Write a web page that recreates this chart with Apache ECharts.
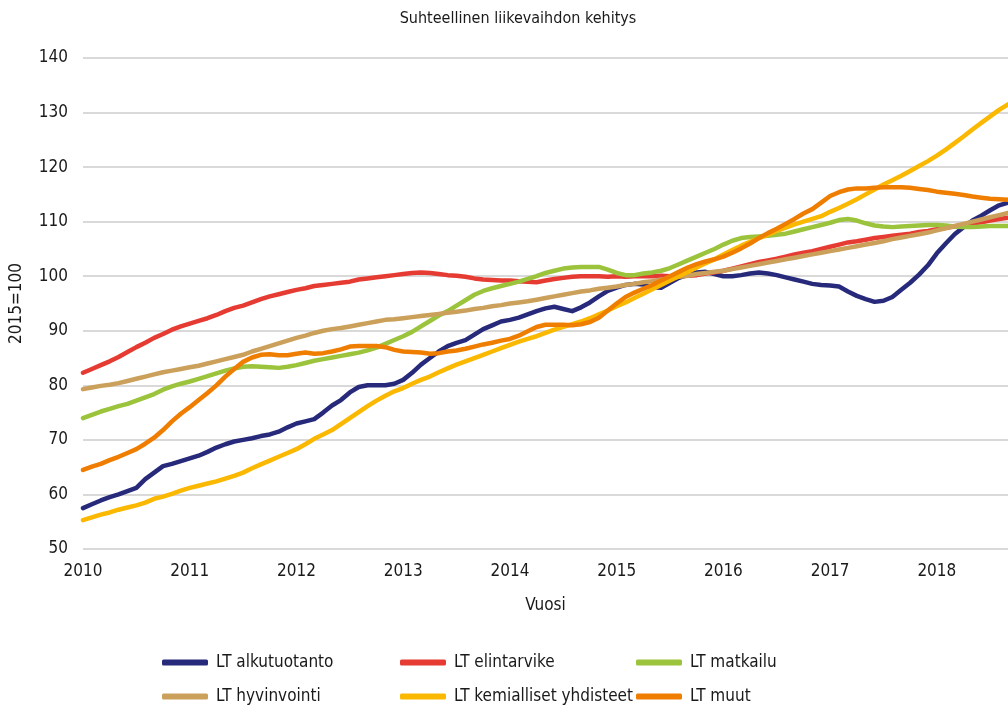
<!DOCTYPE html>
<html>
<head>
<meta charset="utf-8">
<title>Suhteellinen liikevaihdon kehitys</title>
<script src="https://cdn.jsdelivr.net/npm/echarts@6/dist/echarts.min.js"></script>
<style>
  html, body { margin: 0; padding: 0; background: #ffffff; }
  #chart { width: 1008px; height: 711px; }
</style>
</head>
<body>
<div id="chart"></div>
<script>
// monthly index values (2015=100), Jan 2010 .. Sep 2018
const years = ['2010', '2011', '2012', '2013', '2014', '2015', '2016', '2017', '2018'];
const lastMonth2018 = 9;

const alkutuotanto = [
  57.5, 58.2, 58.9, 59.5, 60.0, 60.6, 61.2, 62.8, 64.0, 65.2, 65.6, 66.1,
  66.6, 67.1, 67.8, 68.6, 69.2, 69.7, 70.0, 70.3, 70.7, 71.0, 71.5, 72.3,
  73.0, 73.4, 73.8, 75.0, 76.3, 77.3, 78.7, 79.7, 80.0, 80.0, 80.0, 80.3,
  81.0, 82.3, 83.8, 85.0, 86.2, 87.2, 87.8, 88.3, 89.3, 90.3, 91.0, 91.7,
  92.0, 92.4, 93.0, 93.6, 94.1, 94.4, 94.0, 93.6, 94.3, 95.2, 96.3, 97.3,
  97.9, 98.4, 98.6, 98.5, 98.0, 97.9, 98.8, 99.7, 100.3, 100.7, 100.8, 100.4,
  100.0, 100.0, 100.2, 100.5, 100.7, 100.5, 100.2, 99.8, 99.4, 99.0, 98.6, 98.4,
  98.3, 98.1, 97.2, 96.4, 95.8, 95.3, 95.5, 96.2, 97.5, 98.8, 100.3, 102.0,
  104.2, 106.0, 107.7, 109.0, 110.2, 111.1, 112.1, 113.0, 113.5
];
const elintarvike = [
  82.3, 83.0, 83.7, 84.4, 85.2, 86.1, 87.0, 87.8, 88.7, 89.4, 90.2, 90.8,
  91.3, 91.8, 92.3, 92.9, 93.6, 94.2, 94.6, 95.2, 95.8, 96.3, 96.7, 97.1,
  97.5, 97.8, 98.2, 98.4, 98.6, 98.8, 99.0, 99.4, 99.6, 99.8, 100.0, 100.2,
  100.4, 100.6, 100.7, 100.6, 100.4, 100.2, 100.1, 99.9, 99.6, 99.4, 99.3, 99.2,
  99.2, 99.1, 99.0, 98.9, 99.2, 99.5, 99.7, 99.9, 100.0, 100.0, 100.0, 99.9,
  100.0, 99.9, 100.0, 100.0, 100.0, 100.1, 100.0, 100.0, 100.1, 100.2, 100.5, 100.7,
  101.0, 101.4, 101.8, 102.2, 102.6, 102.9, 103.2, 103.6, 104.0, 104.3, 104.6, 105.0,
  105.4, 105.8, 106.2, 106.4, 106.7, 107.0, 107.2, 107.4, 107.6, 107.8, 108.1, 108.3,
  108.6, 108.9, 109.1, 109.4, 109.6, 109.9, 110.2, 110.5, 110.7
];
const matkailu = [
  74.0, 74.6, 75.2, 75.7, 76.2, 76.6, 77.2, 77.8, 78.4, 79.2, 79.8, 80.3,
  80.7, 81.2, 81.7, 82.2, 82.7, 83.1, 83.4, 83.5, 83.4, 83.3, 83.2, 83.4,
  83.7, 84.1, 84.5, 84.8, 85.1, 85.4, 85.7, 86.0, 86.4, 86.9, 87.6, 88.3,
  89.0, 89.8, 90.8, 91.8, 92.8, 93.6, 94.6, 95.6, 96.6, 97.3, 97.8, 98.2,
  98.6, 99.0, 99.5, 100.0, 100.6, 101.0, 101.4, 101.6, 101.7, 101.7, 101.7, 101.2,
  100.6, 100.2, 100.2, 100.5, 100.7, 101.0, 101.5, 102.2, 102.9, 103.6, 104.3, 105.0,
  105.8, 106.5, 107.0, 107.2, 107.3, 107.4, 107.6, 107.8, 108.2, 108.6, 109.0, 109.4,
  109.8, 110.3, 110.5, 110.2, 109.7, 109.3, 109.1, 109.0, 109.1, 109.2, 109.3, 109.4,
  109.4, 109.3, 109.1, 109.0, 109.0, 109.1, 109.2, 109.2, 109.2
];
const hyvinvointi = [
  79.3, 79.6, 79.9, 80.1, 80.4, 80.8, 81.2, 81.6, 82.0, 82.4, 82.7, 83.0,
  83.3, 83.6, 84.0, 84.4, 84.8, 85.2, 85.6, 86.2, 86.7, 87.2, 87.7, 88.2,
  88.7, 89.1, 89.6, 90.0, 90.3, 90.5, 90.8, 91.1, 91.4, 91.7, 92.0, 92.1,
  92.3, 92.5, 92.7, 92.9, 93.1, 93.3, 93.5, 93.7, 94.0, 94.2, 94.5, 94.7,
  95.0, 95.2, 95.4, 95.7, 96.0, 96.3, 96.6, 96.9, 97.2, 97.4, 97.7, 97.9,
  98.1, 98.4, 98.6, 98.9, 99.1, 99.4, 99.6, 99.9, 100.1, 100.4, 100.6, 100.8,
  101.0, 101.3, 101.6, 101.9, 102.2, 102.5, 102.8, 103.1, 103.4, 103.7, 104.0, 104.3,
  104.6, 104.9, 105.2, 105.5, 105.8, 106.1, 106.4, 106.8, 107.1, 107.4, 107.7, 108.0,
  108.4, 108.8, 109.2, 109.6, 110.0, 110.4, 110.8, 111.2, 111.6
];
const kemialliset = [
  55.3, 55.8, 56.3, 56.7, 57.2, 57.6, 58.0, 58.5, 59.2, 59.6, 60.1, 60.7,
  61.2, 61.6, 62.0, 62.4, 62.9, 63.4, 64.0, 64.8, 65.5, 66.2, 66.9, 67.6,
  68.3, 69.2, 70.2, 71.0, 71.8, 72.9, 74.0, 75.1, 76.2, 77.2, 78.1, 78.9,
  79.5, 80.3, 81.0, 81.6, 82.4, 83.1, 83.8, 84.4, 85.0, 85.6, 86.2, 86.8,
  87.4, 88.0, 88.5, 89.0, 89.6, 90.2, 90.7, 91.2, 91.7, 92.3, 93.0, 93.7,
  94.5, 95.2, 96.0, 96.8, 97.6, 98.4, 99.2, 100.0, 100.8, 101.6, 102.4, 103.1,
  104.0, 104.8, 105.6, 106.3, 107.0, 107.6, 108.3, 108.9, 109.5, 110.0, 110.5, 111.0,
  111.8, 112.5, 113.3, 114.1, 115.0, 115.9, 116.8, 117.6, 118.4, 119.3, 120.2, 121.1,
  122.1, 123.2, 124.4, 125.6, 126.9, 128.1, 129.3, 130.5, 131.5
];
const muut = [
  64.5, 65.1, 65.6, 66.3, 66.9, 67.6, 68.3, 69.3, 70.4, 71.8, 73.4, 74.8,
  76.0, 77.3, 78.6, 80.0, 81.6, 83.0, 84.3, 85.1, 85.6, 85.7, 85.5, 85.5,
  85.8, 86.0, 85.8, 85.9, 86.2, 86.6, 87.1, 87.2, 87.2, 87.2, 87.0, 86.5,
  86.2, 86.1, 86.0, 85.8, 85.9, 86.2, 86.4, 86.7, 87.1, 87.5, 87.8, 88.2,
  88.5, 89.1, 89.9, 90.7, 91.1, 91.1, 91.1, 91.0, 91.2, 91.6, 92.4, 93.7,
  95.0, 96.2, 97.0, 97.7, 98.4, 99.2, 100.0, 100.8, 101.6, 102.2, 102.7, 103.1,
  103.6, 104.3, 105.1, 106.0, 107.0, 107.9, 108.7, 109.6, 110.5, 111.5, 112.3, 113.5,
  114.7, 115.4, 115.9, 116.1, 116.1, 116.2, 116.3, 116.3, 116.3, 116.2, 116.0, 115.8,
  115.5, 115.3, 115.1, 114.9, 114.6, 114.4, 114.2, 114.1, 114.0
];

const seriesNames = ['LT alkutuotanto', 'LT elintarvike', 'LT matkailu',
                     'LT hyvinvointi', 'LT kemialliset yhdisteet', 'LT muut'];
const seriesData = [alkutuotanto, elintarvike, matkailu, hyvinvointi, kemialliset, muut];
const colors = ['#272a7b', '#e63b32', '#9bc43c', '#cba05b', '#fbb800', '#ef7e00'];

// categories: one per month
const months = [];
years.forEach(y => {
  const n = y === '2018' ? lastMonth2018 : 12;
  for (let m = 1; m <= n; m++) months.push(y + '-' + m);
});

const font = "'Liberation Sans Narrow', 'DejaVu Sans Condensed', 'Arial Narrow', sans-serif";

const chart = echarts.init(document.getElementById('chart'), null, { renderer: 'canvas' });

// legend: 3 columns x 2 rows, one legend block per entry so columns line up
const legendCols = [162, 400, 636];
const legendRows = [654, 688];
const legends = seriesNames.map((name, i) => ({
  data: [name],
  left: legendCols[i % 3],
  top: legendRows[Math.floor(i / 3)],
  padding: 0,
  itemWidth: 46,
  itemHeight: 6,
  icon: 'roundRect',
  textStyle: { fontFamily: font, fontSize: 17, color: '#1a1a1a', padding: [0, 0, 0, 3] }
}));

const option = {
  backgroundColor: '#ffffff',
  animation: false,
  color: colors,
  title: {
    text: 'Suhteellinen liikevaihdon kehitys',
    left: 513,
    textAlign: 'center',
    top: 6,
    textStyle: { fontFamily: font, fontSize: 16, fontWeight: 'normal', color: '#1a1a1a' }
  },
  legend: legends,
  grid: { left: 83, right: 0, top: 58, bottom: 162 },
  xAxis: {
    type: 'category',
    data: months,
    boundaryGap: false,
    name: 'Vuosi',
    nameLocation: 'middle',
    nameGap: 48,
    nameTextStyle: { fontFamily: font, fontSize: 17, color: '#1a1a1a' },
    axisLine: { show: false },
    axisTick: { show: false },
    axisLabel: {
      interval: (idx, val) => val.endsWith('-1') && !val.endsWith('-11'),
      formatter: val => val.split('-')[0],
      margin: 14,
      fontFamily: font,
      fontSize: 17,
      color: '#1a1a1a'
    },
    splitLine: { show: false }
  },
  yAxis: {
    type: 'value',
    min: 50,
    max: 140,
    interval: 10,
    name: '2015=100',
    nameLocation: 'middle',
    nameGap: 58,
    nameTextStyle: { fontFamily: font, fontSize: 17, color: '#1a1a1a' },
    axisLine: { show: false },
    axisTick: { show: false },
    axisLabel: { margin: 15, fontFamily: font, fontSize: 17, color: '#1a1a1a' },
    splitLine: { lineStyle: { color: '#d9d9d9', width: 2 } }
  },
  series: seriesNames.map((name, i) => ({
    name: name,
    type: 'line',
    data: seriesData[i],
    symbol: 'none',
    smooth: false,
    lineStyle: { width: 4.5, color: colors[i], cap: 'round', join: 'round' },
    itemStyle: { color: colors[i] },
    z: 2 + i
  }))
};

chart.setOption(option);
</script>
</body>
</html>
